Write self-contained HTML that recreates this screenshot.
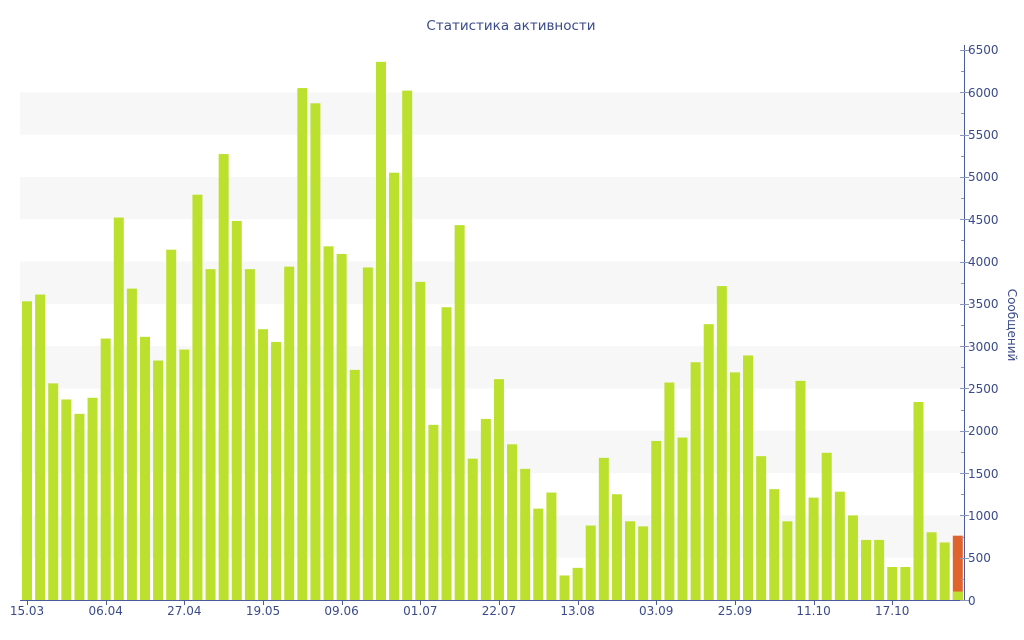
<!DOCTYPE html>
<html><head><meta charset="utf-8"><style>
html,body{margin:0;padding:0;background:#fff;}
svg{display:block;font-family:"DejaVu Sans","Liberation Sans",sans-serif;}
</style></head><body>
<svg id="c" width="1024" height="640" viewBox="0 0 1024 640" xmlns="http://www.w3.org/2000/svg">
<g id="bands"></g>
<g id="bars"></g>
<line x1="964.5" y1="45" x2="964.5" y2="600" stroke="#4a5a9a" stroke-width="1"/>
<line x1="20" y1="600.5" x2="964" y2="600.5" stroke="#4a5a9a" stroke-width="1"/>
<g id="ticks"></g>
<text x="511" y="30" text-anchor="middle" font-size="13.5" fill="#3a4a8a">Статистика активности</text>
<text transform="translate(1008,325) rotate(90)" text-anchor="middle" font-size="12" fill="#3a4a8a">Сообщений</text>
<g font-size="12" fill="#3a4a8a">
<text x="968" y="605">0</text>
<text x="968" y="562">500</text>
<text x="968" y="520">1000</text>
<text x="968" y="478">1500</text>
<text x="968" y="435">2000</text>
<text x="968" y="393">2500</text>
<text x="968" y="351">3000</text>
<text x="968" y="308">3500</text>
<text x="968" y="266">4000</text>
<text x="968" y="224">4500</text>
<text x="968" y="181">5000</text>
<text x="968" y="139">5500</text>
<text x="968" y="97">6000</text>
<text x="968" y="54">6500</text>
</g>
<g font-size="12" fill="#3a4a8a" text-anchor="middle">
<text x="27" y="615">15.03</text>
<text x="105.7" y="615">06.04</text>
<text x="184.3" y="615">27.04</text>
<text x="263" y="615">19.05</text>
<text x="341.6" y="615">09.06</text>
<text x="420.3" y="615">01.07</text>
<text x="498.9" y="615">22.07</text>
<text x="577.6" y="615">13.08</text>
<text x="656.2" y="615">03.09</text>
<text x="734.9" y="615">25.09</text>
<text x="813.6" y="615">11.10</text>
<text x="892.2" y="615">17.10</text>
</g>
</svg>
<script>
var v=[3530,3610,2560,2370,2200,2390,3090,4520,3680,3110,2830,4140,2960,4790,3910,5270,4480,3910,3200,3050,3940,6050,5870,4180,4090,2720,3930,6360,5050,6020,3760,2070,3460,4430,1670,2140,2610,1840,1550,1080,1270,290,380,880,1680,1250,930,870,1880,2570,1920,2810,3260,3710,2690,2890,1700,1310,930,2590,1210,1740,1280,1000,710,710,390,390,2340,800,680,760];
var NS="http://www.w3.org/2000/svg",k=550/6500;
function el(p,t,a){var e=document.createElementNS(NS,t);for(var x in a)e.setAttribute(x,a[x]);document.getElementById(p).appendChild(e);}
for(var b=500;b<6500;b+=1000){el("bands","rect",{x:20,y:600-(b+500)*k,width:944,height:500*k,fill:"#f7f7f7"});}
for(var i=0;i<v.length;i++){var x=22+i*13.11;
 if(i==v.length-1){el("bars","rect",{x:x,y:600-v[i]*k,width:10,height:v[i]*k,fill:"#e0632e"});el("bars","rect",{x:x,y:600-100*k,width:10,height:100*k,fill:"#bbe02d"});}
 else el("bars","rect",{x:x,y:600-v[i]*k,width:10,height:v[i]*k,fill:"#bbe02d"});}
for(var t=0;t<=6500;t+=250){var y=Math.round(600-t*k)+0.5;el("ticks","line",{x1:t%500==0?960:961,x2:t%500==0?969:964,y1:y,y2:y,stroke:"#8a96c0","stroke-width":1});}
for(var j=0;j<12;j++){var x=Math.round(27+j*6*13.11)+0.5;el("ticks","line",{x1:x,x2:x,y1:600,y2:605,stroke:"#4a5a9a","stroke-width":1});}
</script>
</body></html>
